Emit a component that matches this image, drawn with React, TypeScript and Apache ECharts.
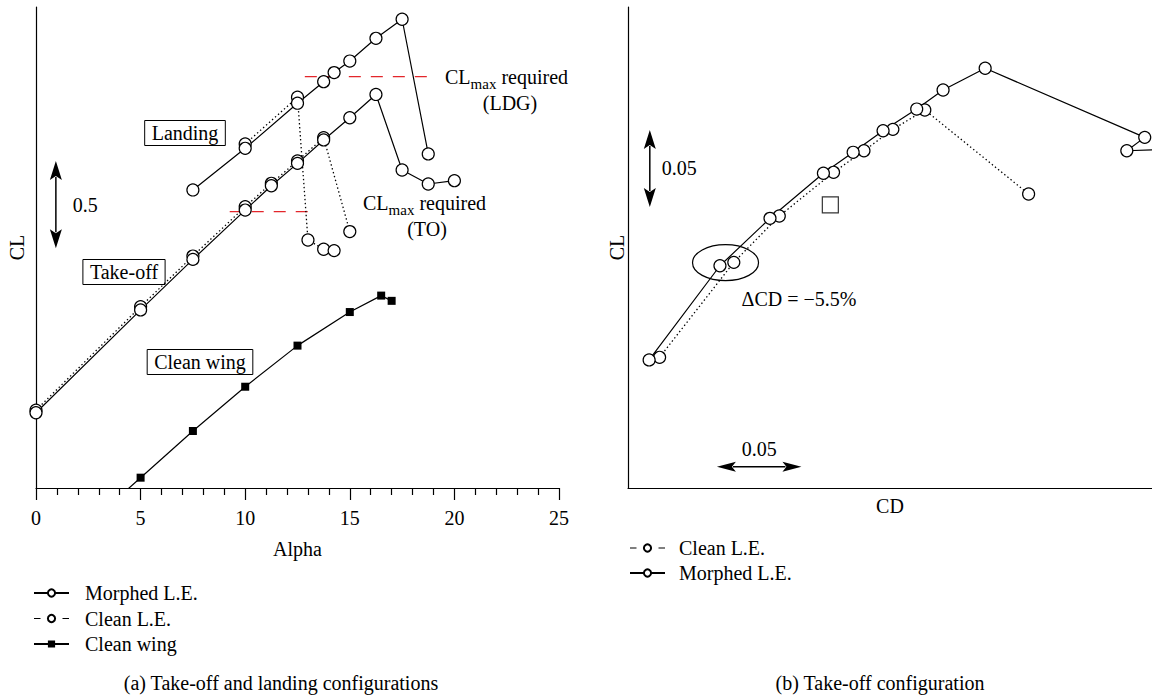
import React, { useEffect, useRef } from 'react';
import * as echarts from 'echarts';

const FONT = '"Liberation Serif", "DejaVu Serif", serif';
const INK = '#000';
const RED = '#e3262b';

// ---- (a) lift curves, alpha in degrees ----
const alphaTicks = [0, 5, 10, 15, 20, 25];

const toMorphedAlpha = [0, 5, 7.5, 10, 11.25, 12.5, 13.75, 15, 16.25, 17.5, 18.75, 20];
const toMorphedCL = [0.43, 1.018, 1.307, 1.589, 1.728, 1.856, 1.99, 2.117, 2.25, 1.818, 1.738, 1.757];

const toCleanAlpha = [0, 5, 7.5, 10, 11.25, 12.5, 13.75, 15];
const toCleanCL = [0.445, 1.037, 1.326, 1.608, 1.742, 1.87, 2.003, 1.466];

const ldgMorphedAlpha = [7.5, 10, 12.5, 13.75, 14.25, 15, 16.25, 17.5, 18.75];
const ldgMorphedCL = [1.704, 1.942, 2.2, 2.323, 2.375, 2.441, 2.571, 2.68, 1.91];

const ldgCleanAlpha = [10, 12.5, 13, 13.75, 14.25];
const ldgCleanCL = [1.967, 2.234, 1.418, 1.365, 1.357];

const wingAlpha = [2.5, 5, 7.5, 10, 12.5, 15, 16.5, 17];
const wingCL = [-0.208, 0.059, 0.326, 0.579, 0.814, 1.006, 1.1, 1.07];

// required CLmax levels and the alpha span each dashed line covers
const clmaxLdg = 2.352;
const clmaxLdgSpan = [12.85, 19.13];
const clmaxTo = 1.58;
const clmaxToSpan = [9.26, 13.17];

// ---- (b) drag polar, take-off ----
const polarMorphedCD = [0.0125, 0.0544, 0.084, 0.1156, 0.1332, 0.1509, 0.1708, 0.1864, 0.2113, 0.3057, 0.2951, 0.3257];
const polarMorphedCL = [0.0832, 0.1444, 0.1752, 0.2045, 0.2181, 0.2321, 0.2462, 0.2586, 0.2727, 0.2278, 0.2191, 0.2202];

const polarCleanCD = [0.0187, 0.0626, 0.0895, 0.1216, 0.1396, 0.1567, 0.1756, 0.237];
const polarCleanCL = [0.0849, 0.1466, 0.1767, 0.2051, 0.2191, 0.233, 0.2456, 0.191];

const targetCD = [0.1197];
const targetCL = [0.1839];

const zip = (xs: number[], ys: number[]) => xs.map((x, i) => [x, ys[i]]);

const circle = {
  symbol: 'circle',
  symbolSize: 12,
  itemStyle: { color: '#fff', borderColor: INK, borderWidth: 1.2 },
};
const solid = { color: INK, width: 1.2 };
const dotted = { color: INK, width: 1.3, type: [1.4, 2.6] };

function lineSeries(name: string, grid: number, data: number[][], lineStyle: any, extra: any = {}) {
  return {
    type: 'line',
    name,
    xAxisIndex: grid,
    yAxisIndex: grid,
    data,
    ...circle,
    showAllSymbol: true,
    lineStyle,
    silent: true,
    clip: true,
    emphasis: { disabled: true },
    ...extra,
  };
}

function redLine(name: string, level: number, span: number[]) {
  return {
    type: 'line',
    name,
    xAxisIndex: 0,
    yAxisIndex: 0,
    data: [[span[0], level], [span[1], level]],
    symbol: 'none',
    lineStyle: { color: RED, width: 1.3, type: [12, 10] },
    silent: true,
    emphasis: { disabled: true },
  };
}

const textBase = { color: INK, fontFamily: FONT, fontSize: 20 };

const hiddenAxisBits = {
  axisTick: { show: false },
  axisLabel: { show: false },
  splitLine: { show: false },
};

const option: any = {
  animation: false,
  backgroundColor: '#fff',
  textStyle: { fontFamily: FONT, color: INK },
  grid: [
    { left: 36, top: 7, width: 523, height: 481 },
    { left: 628, top: 7, width: 530, height: 481 },
  ],
  xAxis: [
    {
      gridIndex: 0,
      type: 'value',
      min: alphaTicks[0],
      max: alphaTicks[alphaTicks.length - 1],
      interval: alphaTicks[1] - alphaTicks[0],
      axisLine: { show: true, onZero: false, lineStyle: { color: INK, width: 1.2 } },
      axisTick: { show: true, inside: false, length: 12, lineStyle: { color: INK, width: 1.2 } },
      minorTick: { show: true, splitNumber: 5, length: 7, lineStyle: { color: INK, width: 1.2 } },
      axisLabel: { ...textBase, margin: 20 },
      splitLine: { show: false },
      minorSplitLine: { show: false },
      name: 'Alpha',
      nameLocation: 'middle',
      nameGap: 51,
      nameTextStyle: textBase,
    },
    {
      gridIndex: 1,
      type: 'value',
      min: 0,
      max: 0.31,
      axisLine: { show: true, onZero: false, lineStyle: { color: INK, width: 1.2 } },
      ...hiddenAxisBits,
      name: 'CD',
      nameLocation: 'middle',
      nameGap: 8,
      nameTextStyle: textBase,
    },
  ],
  yAxis: [
    {
      gridIndex: 0,
      type: 'value',
      min: 0,
      max: 2.75,
      axisLine: { show: true, onZero: false, lineStyle: { color: INK, width: 1.2 } },
      ...hiddenAxisBits,
      name: 'CL',
      nameLocation: 'middle',
      nameGap: 9,
      nameTextStyle: textBase,
    },
    {
      gridIndex: 1,
      type: 'value',
      min: 0,
      max: 0.3125,
      axisLine: { show: true, onZero: false, lineStyle: { color: INK, width: 1.2 } },
      ...hiddenAxisBits,
      name: 'CL',
      nameLocation: 'middle',
      nameGap: 1,
      nameTextStyle: textBase,
    },
  ],
  legend: [
    {
      orient: 'vertical',
      left: 33,
      top: 583,
      padding: 0,
      itemWidth: 35,
      itemHeight: 9,
      itemGap: 5.5,
      selectedMode: false,
      textStyle: { ...textBase, lineHeight: 20, padding: [0, 0, 0, 11] },
      data: [
        { name: 'Morphed L.E.' },
        { name: 'Clean L.E.', lineStyle: { type: [6.5, 22], width: 1.2 } },
        { name: 'Clean wing' },
      ],
    },
    {
      orient: 'vertical',
      left: 629,
      top: 538,
      padding: 0,
      itemWidth: 35,
      itemHeight: 9,
      itemGap: 5,
      selectedMode: false,
      textStyle: { ...textBase, lineHeight: 20, padding: [0, 0, 0, 9] },
      data: [
        { name: 'Clean L.E.', lineStyle: { type: [6.5, 22], width: 1.2 } },
        { name: 'Morphed L.E.' },
      ],
    },
  ],
  series: [
    redLine('CLmax required (LDG)', clmaxLdg, clmaxLdgSpan),
    redLine('CLmax required (TO)', clmaxTo, clmaxToSpan),
    lineSeries('Clean L.E.', 0, zip(toCleanAlpha, toCleanCL), dotted),
    lineSeries('Clean L.E.', 0, zip(ldgCleanAlpha, ldgCleanCL), dotted),
    lineSeries('Morphed L.E.', 0, zip(toMorphedAlpha, toMorphedCL), solid),
    lineSeries('Morphed L.E.', 0, zip(ldgMorphedAlpha, ldgMorphedCL), solid),
    {
      type: 'line',
      name: 'Clean wing',
      xAxisIndex: 0,
      yAxisIndex: 0,
      data: zip(wingAlpha, wingCL),
      symbol: 'rect',
      symbolSize: 8,
      showAllSymbol: true,
      itemStyle: { color: INK },
      lineStyle: solid,
      clip: true,
      silent: true,
      emphasis: { disabled: true },
    },
    lineSeries('Clean L.E.', 1, zip(polarCleanCD, polarCleanCL), dotted),
    lineSeries('Morphed L.E.', 1, zip(polarMorphedCD, polarMorphedCL), solid),
    {
      type: 'scatter',
      name: 'Target',
      xAxisIndex: 1,
      yAxisIndex: 1,
      data: zip(targetCD, targetCL),
      symbol: 'rect',
      symbolSize: 16,
      itemStyle: { color: '#fff', borderColor: INK, borderWidth: 1.2 },
      silent: true,
      emphasis: { disabled: true },
    },
  ],
};

function txt(x: number, y: number, text: string, size = 20, align = 'left', extra: any = {}) {
  return {
    type: 'text',
    x,
    y,
    silent: true,
    style: {
      text,
      fill: INK,
      font: `${size}px ${FONT}`,
      align,
      verticalAlign: 'middle',
      ...extra,
    },
  };
}

function boxed(x: number, y: number, text: string) {
  return txt(x, y, text, 20, 'center', {
    padding: [2, 7, 2, 7],
    borderColor: INK,
    borderWidth: 1,
    lineHeight: 21,
  });
}

function vArrow(x: number, top: number, bottom: number) {
  const head = 19;
  const half = 6;
  return [
    { type: 'line', silent: true, shape: { x1: x, y1: top + head - 3, x2: x, y2: bottom - head + 3 }, style: { stroke: INK, lineWidth: 1.5 } },
    { type: 'polygon', silent: true, shape: { points: [[x, top], [x - half, top + head], [x, top + head - 4], [x + half, top + head]] }, style: { fill: INK } },
    { type: 'polygon', silent: true, shape: { points: [[x, bottom], [x - half, bottom - head], [x, bottom - head + 4], [x + half, bottom - head]] }, style: { fill: INK } },
  ];
}

function hArrow(y: number, left: number, right: number) {
  const head = 19;
  const half = 5;
  return [
    { type: 'line', silent: true, shape: { x1: left + head - 3, y1: y, x2: right - head + 3, y2: y }, style: { stroke: INK, lineWidth: 1.5 } },
    { type: 'polygon', silent: true, shape: { points: [[left, y], [left + head, y - half], [left + head - 4, y], [left + head, y + half]] }, style: { fill: INK } },
    { type: 'polygon', silent: true, shape: { points: [[right, y], [right - head, y - half], [right - head + 4, y], [right - head, y + half]] }, style: { fill: INK } },
  ];
}

// "CLmax required" caption with a subscript, laid out piece by piece
function clmaxLabel(left: number, mid: number, second: string, secondX: number, secondY: number) {
  const clW = 1.278 * 20;
  const maxW = 1.722 * 15;
  return [
    txt(left, mid, 'CL'),
    txt(left + clW, mid + 7, 'max', 15),
    txt(left + clW + maxW + 5, mid, 'required'),
    txt(secondX, secondY, second, 20, 'center'),
  ];
}

export default function App() {
  const ref = useRef<HTMLDivElement>(null);

  useEffect(() => {
    const el = ref.current;
    if (!el) return;
    const chart = echarts.init(el, null, { renderer: 'svg' });
    chart.setOption(option);

    const px = (g: number, pt: number[]) =>
      chart.convertToPixel({ xAxisIndex: g, yAxisIndex: g } as any, pt) as number[];

    // scale arrows: 0.5 in CL on (a); 0.05 in CL and CD on (b)
    const a1 = px(0, [0.95, 1.87]);
    const a2 = px(0, [0.95, 1.37]);
    const b1 = px(1, [0.0129, 0.2326]);
    const b2 = px(1, [0.0129, 0.1826]);
    const c1 = px(1, [0.0526, 0.0138]);
    const c2 = px(1, [0.1026, 0.0138]);
    const ell = px(1, [0.0577, 0.1464]);

    const elements: any[] = [
      ...vArrow(a1[0], a1[1], a2[1]),
      txt(a1[0] + 17, (a1[1] + a2[1]) / 2, '0.5'),
      ...vArrow(b1[0], b1[1], b2[1]),
      txt(b1[0] + 12, (b1[1] + b2[1]) / 2, '0.05'),
      ...hArrow(c1[1], c1[0], c2[0]),
      txt((c1[0] + c2[0]) / 2, c1[1] - 18, '0.05', 20, 'center'),
      {
        type: 'ellipse',
        silent: true,
        shape: { cx: ell[0], cy: ell[1], rx: 33, ry: 18 },
        style: { fill: 'none', stroke: INK, lineWidth: 1.2 },
      },
      txt(ell[0] + 16, ell[1] + 36, 'ΔCD = −5.5%'),
      boxed(185, 133, 'Landing'),
      boxed(124, 272, 'Take-off'),
      boxed(200, 362, 'Clean wing'),
      ...clmaxLabel(445, 77, '(LDG)', 510, 103),
      ...clmaxLabel(363, 203, '(TO)', 427, 229),
      txt(281, 683, '(a) Take-off and landing configurations', 20, 'center'),
      txt(880, 683, '(b) Take-off configuration', 20, 'center'),
    ];
    chart.setOption({ graphic: { elements } });

    return () => chart.dispose();
  }, []);

  return (
    <div
      ref={ref}
      style={{ position: 'fixed', left: 0, top: 0, width: 1152, height: 697, background: '#fff' }}
    />
  );
}
